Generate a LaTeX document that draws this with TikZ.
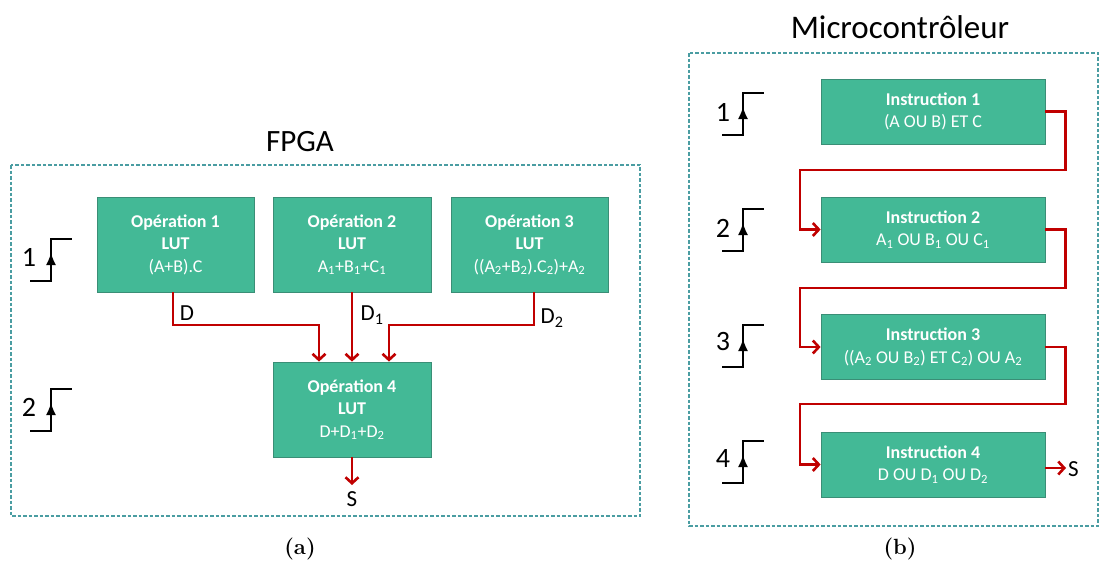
\documentclass[tikz,border=0pt]{standalone}
\usepackage{fontspec}
\newfontfamily\calib{Carlito}
\usetikzlibrary{arrows.meta}
\definecolor{boxfill}{HTML}{43B996}
\definecolor{boxline}{HTML}{3A8E76}
\definecolor{wire}{HTML}{C00000}
\definecolor{frame}{HTML}{4A9DA2}
\tikzset{
  opbox/.style={draw=boxline, line width=0.8pt, fill=boxfill, text=white, align=center,
    font=\calib\fontsize{18}{22.5}\selectfont, inner sep=0pt},
  frameline/.style={draw=frame, line width=1.3pt, dash pattern=on 3.5pt off 2pt},
  conn/.style={draw=wire, line width=2.6pt, -{Straight Barb[length=6pt,width=13pt,line width=2.6pt]}},
  lbl/.style={font=\calib\fontsize{23}{24}\selectfont, inner sep=0pt},
  numtext/.style={font=\calib\fontsize{28}{30}\selectfont, inner sep=0pt},
  titletext/.style={font=\calib\fontsize{31}{34}\selectfont, inner sep=0pt},
  captext/.style={font=\fontsize{22}{24}\selectfont, inner sep=0pt},
  clocksym/.pic={
    \draw[line width=1.4pt] (0,0) -- (21,0) -- (21,-42) -- (42,-42);
    \draw[line width=1.4pt, -{Latex[length=12pt,width=10pt]}] (21,0) -- (21,-28);
  }
}
\begin{document}
\begin{tikzpicture}[x=1pt,y=-1pt]
\useasboundingbox (0,0) rectangle (1099,563);
% ---------- FPGA ----------
\draw[frameline] (11,165) rectangle (640,516);
\node[titletext] (tfpga) at (300,142) {FPGA};
\node[opbox, minimum width=157pt, minimum height=95pt] (op1) at (175.5,244.5)
  {\textbf{Opération 1}\\\textbf{LUT}\\(A+B).C};
\node[opbox, minimum width=158pt, minimum height=95pt] (op2) at (352,244.5)
  {\textbf{Opération 2}\\\textbf{LUT}\\A\textsubscript{1}+B\textsubscript{1}+C\textsubscript{1}};
\node[opbox, minimum width=157pt, minimum height=95pt] (op3) at (529.5,244.5)
  {\textbf{Opération 3}\\\textbf{LUT}\\((A\textsubscript{2}+B\textsubscript{2}).C\textsubscript{2})+A\textsubscript{2}};
\node[opbox, minimum width=158pt, minimum height=95pt] (op4) at (352,409.5)
  {\textbf{Opération 4}\\\textbf{LUT}\\D+D\textsubscript{1}+D\textsubscript{2}};
\coordinate (s1) at (173,292);
\coordinate (s3) at (534,292);
\draw[conn] (s1) -- (173,325) -| ([xshift=-33pt]op4.north);
\draw[conn] (op2.south) -- (op4.north);
\draw[conn] (s3) -- (534,325) -| ([xshift=37pt]op4.north);
\coordinate (sout) at (352,485);
\draw[conn] (op4.south) -- (sout);
\node[lbl] (ld) at (187,313) {D};
\node[lbl] (ld1) at (372,315) {D\textsubscript{1}};
\node[lbl] (ld2) at (552,318) {D\textsubscript{2}};
\node[lbl] (ls) at (352,499) {S};
\node[numtext] (n1) at (29,257) {1};
\pic at (30,281) {clocksym};
\node[numtext] (n2) at (29,407) {2};
\pic at (30,431) {clocksym};
\node[captext] (capa) at (300,549) {\textbf{(a)}};
% ---------- Microcontroleur ----------
\draw[frameline] (689,53) rectangle (1098,526);
\node[titletext, font=\calib\fontsize{33}{36}\selectfont] (tmcu) at (900,27) {Microcontrôleur};
\node[opbox, minimum width=224pt, minimum height=65pt] (i1) at (933,111.5)
  {\textbf{Instruction 1}\\(A OU B) ET C};
\node[opbox, minimum width=224pt, minimum height=65pt] (i2) at (933,229.5)
  {\textbf{Instruction 2}\\A\textsubscript{1} OU B\textsubscript{1} OU C\textsubscript{1}};
\node[opbox, minimum width=224pt, minimum height=65pt] (i3) at (933,347)
  {\textbf{Instruction 3}\\((A\textsubscript{2} OU B\textsubscript{2}) ET C\textsubscript{2}) OU A\textsubscript{2}};
\node[opbox, minimum width=224pt, minimum height=65pt] (i4) at (933,464.5)
  {\textbf{Instruction 4}\\D OU D\textsubscript{1} OU D\textsubscript{2}};
\draw[conn] (i1.east) -- ++(20,0) |- (800,170) |- (i2.west);
\draw[conn] (i2.east) -- ++(20,0) |- (800,288) |- (i3.west);
\draw[conn] (i3.east) -- ++(20,0) |- (800,404) |- (i4.west);
\coordinate (mout) at (1066,468);
\draw[conn] (i4.east |- mout) -- (mout);
\node[lbl, anchor=west] (ms) at (1068,469) {S};
\node[numtext] (m1) at (723,112) {1};
\pic at (722,135) {clocksym};
\node[numtext] (m2) at (723,228) {2};
\pic at (722,251) {clocksym};
\node[numtext] (m3) at (723,342) {3};
\pic at (722,367) {clocksym};
\node[numtext] (m4) at (723,458) {4};
\pic at (722,483) {clocksym};
\node[captext] (capb) at (900,549) {\textbf{(b)}};
\end{tikzpicture}
\end{document}
